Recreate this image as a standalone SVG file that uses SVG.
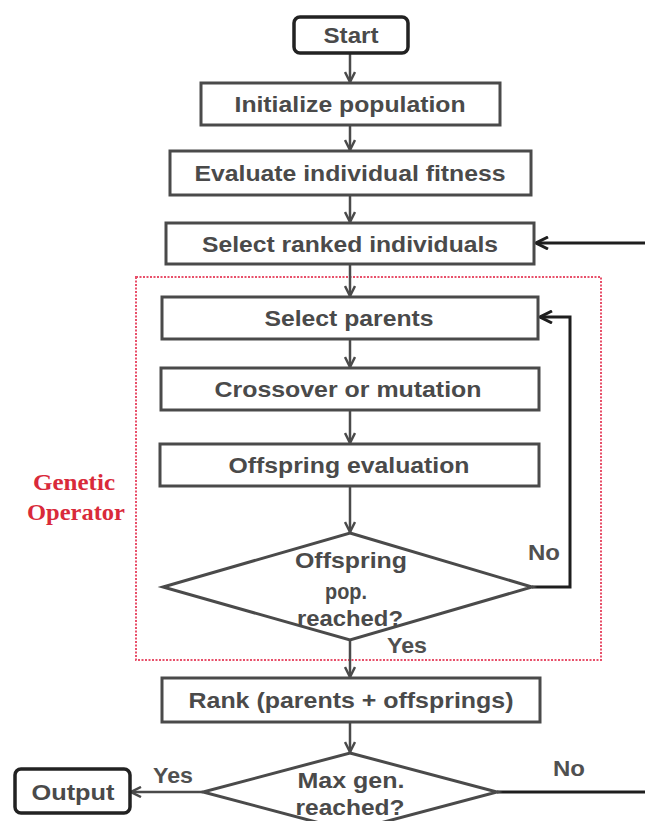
<svg xmlns="http://www.w3.org/2000/svg" width="645" height="821" viewBox="0 0 645 821">
<defs>
<style>
.box{fill:#fff;stroke:#4a4a4a;stroke-width:3}
.term{fill:#fff;stroke:#222;stroke-width:3.5}
.dia{fill:#fff;stroke:#4a4a4a;stroke-width:3}
.t{font-family:"Liberation Sans",Arial,sans-serif;font-weight:bold;font-size:22px;fill:#4a4a4a;text-anchor:middle}
.lbl{font-family:"Liberation Sans",Arial,sans-serif;font-weight:bold;font-size:22px;fill:#505050}
.red{font-family:"Liberation Serif","Times New Roman",serif;font-weight:bold;font-size:23px;fill:#d92a3a;text-anchor:middle}
.c{fill:none;stroke:#4a4a4a;stroke-width:2.5}
.loop{fill:none;stroke:#1e1e1e;stroke-width:3}
</style>
<marker id="ah" viewBox="0 0 12 12" refX="11" refY="6" markerWidth="12" markerHeight="12" markerUnits="userSpaceOnUse" orient="auto">
<path d="M1,1 L11,6 L1,11" fill="none" stroke="#4a4a4a" stroke-width="2.5"/>
</marker>
<marker id="ahk" viewBox="0 0 14 14" refX="13" refY="7" markerWidth="14" markerHeight="14" markerUnits="userSpaceOnUse" orient="auto">
<path d="M1,1 L13,7 L1,13" fill="none" stroke="#1e1e1e" stroke-width="3"/>
</marker>
</defs>
<rect width="645" height="821" fill="#fff"/>

<g id="genetic-operator">
<rect x="136" y="277" width="465" height="383" fill="none" stroke="#e8506a" stroke-width="2" stroke-dasharray="2 1.5"/>
<text class="red" x="74" y="490" textLength="82" lengthAdjust="spacingAndGlyphs">Genetic</text>
<text class="red" x="76" y="520" textLength="98" lengthAdjust="spacingAndGlyphs">Operator</text>
</g>

<g id="connectors">
<line class="c" x1="350" y1="53" x2="350" y2="82" marker-end="url(#ah)"/>
<line class="c" x1="350" y1="125" x2="350" y2="150" marker-end="url(#ah)"/>
<line class="c" x1="350" y1="195" x2="350" y2="222" marker-end="url(#ah)"/>
<line class="c" x1="350" y1="264" x2="350" y2="296" marker-end="url(#ah)"/>
<line class="c" x1="350" y1="339" x2="350" y2="367" marker-end="url(#ah)"/>
<line class="c" x1="350" y1="410" x2="350" y2="443" marker-end="url(#ah)"/>
<line class="c" x1="350" y1="486" x2="350" y2="532" marker-end="url(#ah)"/>
<line class="c" x1="350" y1="640" x2="350" y2="677" marker-end="url(#ah)"/>
<line class="c" x1="350" y1="722" x2="350" y2="752" marker-end="url(#ah)"/>
<line class="c" x1="203" y1="792" x2="131" y2="792" marker-end="url(#ah)"/>
<polyline class="loop" points="532,587 570,587 570,317 540,317" marker-end="url(#ahk)"/>
<line class="loop" x1="645" y1="243" x2="536" y2="243" marker-end="url(#ahk)"/>
<line class="loop" x1="497" y1="792" x2="645" y2="792"/>
<text class="lbl" x="387" y="653" textLength="40" lengthAdjust="spacingAndGlyphs">Yes</text>
<text class="lbl" x="528" y="560" textLength="32" lengthAdjust="spacingAndGlyphs">No</text>
<text class="lbl" x="153" y="783" textLength="40" lengthAdjust="spacingAndGlyphs">Yes</text>
<text class="lbl" x="553" y="776" textLength="32" lengthAdjust="spacingAndGlyphs">No</text>
</g>

<g id="start">
<rect class="term" x="294" y="17" width="114" height="36" rx="6"/>
<text class="t" x="351" y="43" textLength="55" lengthAdjust="spacingAndGlyphs">Start</text>
</g>
<g id="init">
<rect class="box" x="201" y="83" width="299" height="42"/>
<text class="t" x="350" y="112" textLength="231" lengthAdjust="spacingAndGlyphs">Initialize population</text>
</g>
<g id="evaluate">
<rect class="box" x="170" y="151" width="361" height="44"/>
<text class="t" x="350" y="181" textLength="311" lengthAdjust="spacingAndGlyphs">Evaluate individual fitness</text>
</g>
<g id="select-ranked">
<rect class="box" x="166" y="223" width="368" height="41"/>
<text class="t" x="350" y="252" textLength="296" lengthAdjust="spacingAndGlyphs">Select ranked individuals</text>
</g>
<g id="select-parents">
<rect class="box" x="162" y="297" width="376" height="42"/>
<text class="t" x="349" y="326" textLength="169" lengthAdjust="spacingAndGlyphs">Select parents</text>
</g>
<g id="crossover">
<rect class="box" x="161" y="368" width="378" height="42"/>
<text class="t" x="348" y="397" textLength="267" lengthAdjust="spacingAndGlyphs">Crossover or mutation</text>
</g>
<g id="offspring-eval">
<rect class="box" x="160" y="444" width="379" height="42"/>
<text class="t" x="349" y="473" textLength="241" lengthAdjust="spacingAndGlyphs">Offspring evaluation</text>
</g>
<g id="offspring-decision">
<polygon class="dia" points="350,533 532,587 350,640 163,587"/>
<text class="t" x="351" y="568" textLength="112" lengthAdjust="spacingAndGlyphs">Offspring</text>
<text class="t" x="346" y="599" textLength="42" lengthAdjust="spacingAndGlyphs">pop.</text>
<text class="t" x="350" y="626" textLength="106" lengthAdjust="spacingAndGlyphs">reached?</text>
</g>
<g id="rank">
<rect class="box" x="162" y="678" width="378" height="44"/>
<text class="t" x="351" y="708" textLength="325" lengthAdjust="spacingAndGlyphs">Rank (parents + offsprings)</text>
</g>
<g id="max-gen-decision">
<polygon class="dia" points="350,753 497,792 350,831 203,792"/>
<text class="t" x="351" y="788" textLength="107" lengthAdjust="spacingAndGlyphs">Max gen.</text>
<text class="t" x="350" y="815" textLength="109" lengthAdjust="spacingAndGlyphs">reached?</text>
</g>
<g id="output">
<rect class="term" x="15" y="769" width="115" height="44" rx="6"/>
<text class="t" x="73" y="800" textLength="83" lengthAdjust="spacingAndGlyphs">Output</text>
</g>
</svg>
